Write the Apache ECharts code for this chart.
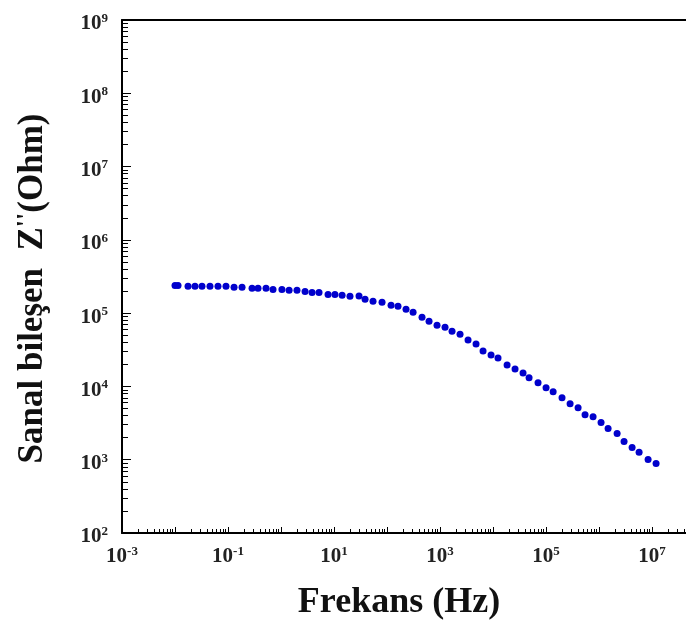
<!DOCTYPE html>
<html>
<head>
<meta charset="utf-8">
<script src="https://cdn.jsdelivr.net/npm/echarts@6/dist/echarts.min.js"></script>
<style>html,body{margin:0;padding:0;background:#fff}#c{width:686px;height:626px}</style>
</head>
<body>
<div id="c"></div>
<script>
// Frequency (Hz)
const freq = [0.01, 0.0114, 0.0176, 0.0238, 0.0323, 0.0457, 0.0647, 0.0916, 0.130, 0.184,
  0.284, 0.368, 0.521, 0.706, 1.04, 1.42, 2.0, 2.84, 3.85, 5.21,
  7.71, 10.4, 14.2, 20.0, 29.6, 38.5, 54.4, 80.5, 119, 161,
  228, 310, 457, 620, 877, 1242, 1683, 2383, 3375, 4777,
  6473, 9165, 1.24e4, 1.84e4, 2.60e4, 3.68e4, 4.78e4, 7.06e4, 1.0e5, 1.36e5,
  2.0e5, 2.84e5, 4.02e5, 5.44e5, 7.71e5, 1.09e6, 1.48e6, 2.19e6, 2.96e6, 4.20e6,
  5.69e6, 8.41e6, 1.19e7];
// Imaginary component Z'' (Ohm)
const zImag = [2.39e5, 2.39e5, 2.32e5, 2.32e5, 2.32e5, 2.32e5, 2.32e5, 2.32e5, 2.25e5, 2.25e5,
  2.18e5, 2.18e5, 2.18e5, 2.11e5, 2.11e5, 2.05e5, 2.05e5, 1.98e5, 1.92e5, 1.92e5,
  1.80e5, 1.80e5, 1.75e5, 1.70e5, 1.72e5, 1.55e5, 1.45e5, 1.41e5, 1.28e5, 1.24e5,
  1.13e5, 1.03e5, 8.80e4, 7.76e4, 6.85e4, 6.44e4, 5.68e4, 5.17e4, 4.29e4, 3.78e4,
  3.04e4, 2.69e4, 2.44e4, 1.96e4, 1.73e4, 1.53e4, 1.31e4, 1.12e4, 9.57e3, 8.45e3,
  7.0e3, 5.81e3, 5.13e3, 4.12e3, 3.87e3, 3.21e3, 2.66e3, 2.28e3, 1.77e3, 1.47e3,
  1.26e3, 1.01e3, 8.91e2];
// Tick label exponents shown
const xLabelExps = [-3, -1, 1, 3, 5, 7];
const yLabelExps = [2, 3, 4, 5, 6, 7, 8, 9];
// Axis ranges (x axis is cut off by the picture's right edge)
const xMin = 1e-3, xMax = 43651583;
const yMin = 1e2, yMax = 1e9;

const FF = "'Liberation Serif','Times New Roman',serif";
const rich = {
  b: {fontFamily: FF, fontWeight: 'bold', fontSize: 21, color: '#222', lineHeight: 24},
  s: {fontFamily: FF, fontWeight: 'bold', fontSize: 13, color: '#222', verticalAlign: 'top', lineHeight: 14}
};
function fmt(list) {
  return function (v) {
    const e = Math.log10(v);
    if (Math.abs(e - Math.round(e)) > 1e-6) return '';
    if (list.indexOf(Math.round(e)) < 0) return '';
    return '{b|10}{s|' + Math.round(e) + '}';
  };
}

const data = freq.map((f, i) => [f, zImag[i]]);

const chart = echarts.init(document.getElementById('c'), null, {renderer: 'canvas'});
chart.setOption({
  animation: false,
  backgroundColor: '#fff',
  grid: {left: 122, top: 20, right: 0, bottom: 90, show: false},
  xAxis: [{
    type: 'log', logBase: 10, min: xMin, max: xMax, interval: 1,
    name: 'Frekans (Hz)', nameLocation: 'middle', nameGap: 52,
    nameTextStyle: {fontFamily: FF, fontWeight: 'bold', fontSize: 36, color: '#111', padding: [0, 10, 0, 0]},
    axisLine: {show: true, lineStyle: {color: '#000', width: 2}},
    axisTick: {show: true, inside: true, length: 6, lineStyle: {color: '#000', width: 1}},
    minorTick: {show: true, splitNumber: 9, length: 4, lineStyle: {color: '#000', width: 1}},
    splitLine: {show: false}, minorSplitLine: {show: false},
    axisLabel: {margin: 12, formatter: fmt(xLabelExps), rich: rich, showMaxLabel: false}
  }, {
    type: 'log', logBase: 10, min: xMin, max: xMax, position: 'top',
    axisLine: {show: true, onZero: false, lineStyle: {color: '#000', width: 2}},
    axisTick: {show: false}, axisLabel: {show: false}, splitLine: {show: false}
  }],
  yAxis: {
    type: 'log', logBase: 10, min: yMin, max: yMax, interval: 1,
    name: "{t|Sanal bileşen  Z}{q|''}{t|(Ohm)}", nameLocation: 'middle', nameGap: 70, nameRotate: 90,
    nameTextStyle: {padding: [0, 24, 0, 0], rich: {
      t: {fontFamily: FF, fontWeight: 'bold', fontSize: 35, color: '#111', lineHeight: 38},
      q: {fontFamily: FF, fontWeight: 'bold', fontSize: 26, color: '#111', verticalAlign: 'top', lineHeight: 22}
    }},
    axisLine: {show: true, lineStyle: {color: '#000', width: 2}},
    axisTick: {show: true, inside: true, length: 9, lineStyle: {color: '#000', width: 1}},
    minorTick: {show: true, splitNumber: 9, length: 6, lineStyle: {color: '#000', width: 1}},
    splitLine: {show: false}, minorSplitLine: {show: false},
    axisLabel: {margin: 14, formatter: fmt(yLabelExps), rich: rich, padding: [8, 0, 0, 0]}
  },
  series: [{
    type: 'scatter', xAxisIndex: 0, data: data, symbol: 'circle', symbolSize: 7,
    itemStyle: {color: '#0000cc', opacity: 1}
  }]
});
</script>
</body>
</html>
